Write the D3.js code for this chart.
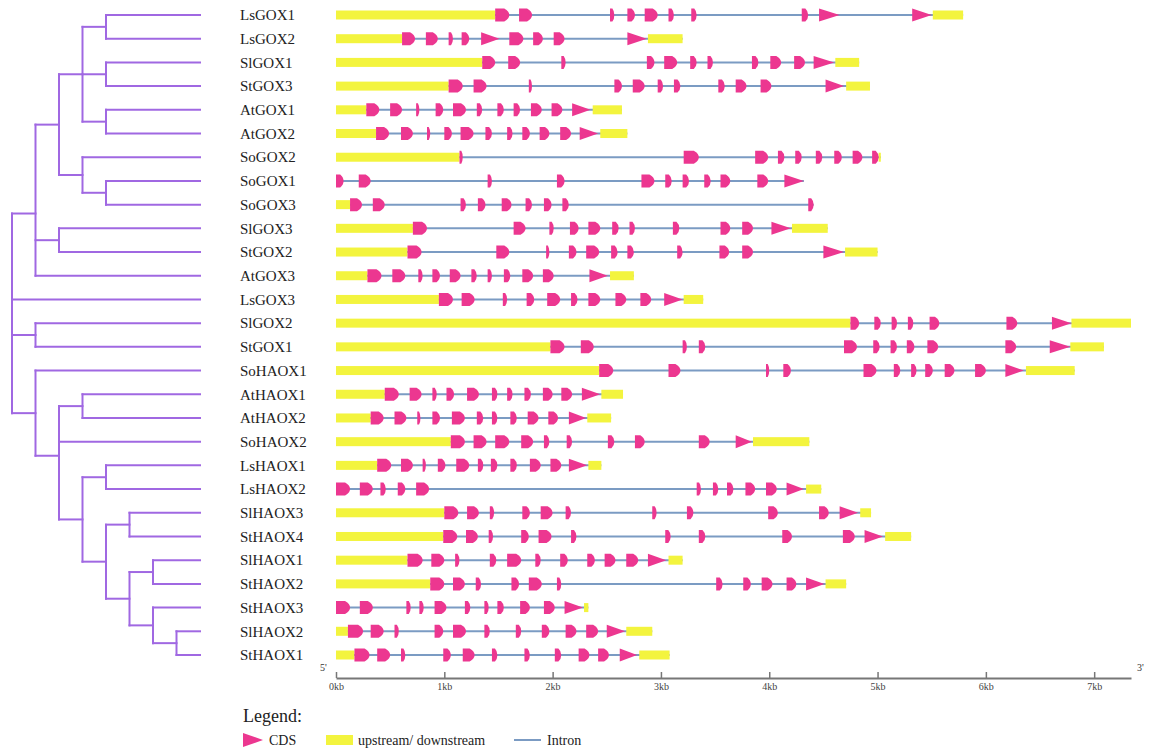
<!DOCTYPE html>
<html>
<head>
<meta charset="utf-8">
<script src="https://cdn.jsdelivr.net/npm/d3@7.9.0/dist/d3.min.js"></script>
<style>
  body { margin: 0; background: #fff; }
  text { font-family: "Liberation Serif", "DejaVu Serif", serif; }
</style>
</head>
<body>
<svg id="chart" width="1156" height="748"></svg>
<script>
// gene names, top to bottom (same order as the tree leaves)
const names = ['LsGOX1','LsGOX2','SlGOX1','StGOX3','AtGOX1','AtGOX2','SoGOX2','SoGOX1','SoGOX3',
  'SlGOX3','StGOX2','AtGOX3','LsGOX3','SlGOX2','StGOX1','SoHAOX1','AtHAOX1','AtHAOX2','SoHAOX2',
  'LsHAOX1','LsHAOX2','SlHAOX3','StHAOX4','SlHAOX1','StHAOX2','StHAOX3','SlHAOX2','StHAOX1'];

// tree topology (nested lists, leaves are gene names)
const tree = [
  [
    [
      [['LsGOX1','LsGOX2'], ['SlGOX1','StGOX3'], ['AtGOX1','AtGOX2']],
      ['SoGOX2', ['SoGOX1','SoGOX3']]
    ],
    ['SlGOX3','StGOX2'],
    'AtGOX3'
  ],
  'LsGOX3',
  ['SlGOX2','StGOX1'],
  ['SoHAOX1',
    [['AtHAOX1','AtHAOX2'],
     'SoHAOX2',
     [['LsHAOX1','LsHAOX2'],
      [['SlHAOX3','StHAOX4'],
       [['SlHAOX1','StHAOX2'],
        ['StHAOX3', ['SlHAOX2','StHAOX1']]]]]]]
];

// upstream/downstream (UTR) segments per gene, kb
const utr = [
  [[0,1.47],[5.51,5.79]], [[0,0.61],[2.88,3.20]], [[0,1.35],[4.61,4.83]], [[0,1.04],[4.71,4.93]],
  [[0,0.28],[2.37,2.64]], [[0,0.37],[2.44,2.69]], [[0,1.14],[5.01,5.03]], [],
  [[0,0.13]], [[0,0.71],[4.21,4.54]], [[0,0.66],[4.70,5.00]], [[0,0.29],[2.53,2.75]],
  [[0,0.95],[3.21,3.39]], [[0,4.75],[6.79,7.34]], [[0,1.98],[6.78,7.09]], [[0,2.43],[6.37,6.82]],
  [[0,0.45],[2.45,2.65]], [[0,0.32],[2.32,2.54]], [[0,1.06],[3.85,4.37]], [[0,0.38],[2.33,2.45]],
  [[4.34,4.48]], [[0,1.00],[4.84,4.94]], [[0,0.99],[5.07,5.31]], [[0,0.66],[3.07,3.20]],
  [[0,0.87],[4.52,4.71]], [[2.29,2.33]], [[0,0.11],[2.68,2.92]], [[0,0.17],[2.80,3.08]]
];

// CDS segments per gene, kb ('a' = drawn as an arrow)
const cds = [
  [[1.47,1.60],[1.69,1.81],[2.53,2.57],[2.69,2.76],[2.85,2.97],[3.07,3.12],[3.28,3.33],[4.30,4.36],[4.46,4.65,'a'],[5.32,5.50,'a']],
  [[0.61,0.73],[0.83,0.94],[1.04,1.08],[1.16,1.23],[1.34,1.51,'a'],[1.60,1.73],[1.82,1.91],[2.01,2.11],[2.69,2.87,'a']],
  [[1.35,1.47],[1.59,1.70],[2.08,2.12],[2.87,2.94],[3.03,3.15],[3.27,3.33],[3.43,3.48],[3.84,3.90],[4.01,4.11],[4.23,4.33],[4.41,4.60,'a']],
  [[1.04,1.17],[1.27,1.39],[1.78,1.81],[2.57,2.64],[2.74,2.85],[2.97,3.02],[3.12,3.18],[3.53,3.59],[3.69,3.79],[3.92,4.02],[4.52,4.69,'a']],
  [[0.28,0.40],[0.50,0.61],[0.74,0.77],[0.92,0.99],[1.08,1.20],[1.30,1.35],[1.49,1.55],[1.64,1.70],[1.80,1.90],[1.99,2.09],[2.18,2.35,'a']],
  [[0.37,0.49],[0.60,0.71],[0.84,0.87],[1.00,1.07],[1.15,1.27],[1.38,1.44],[1.58,1.63],[1.72,1.79],[1.88,1.97],[2.07,2.17],[2.25,2.42,'a']],
  [[1.14,1.17],[3.21,3.35],[3.87,3.99],[4.08,4.14],[4.24,4.30],[4.43,4.49],[4.60,4.67],[4.77,4.86],[4.95,5.01]],
  [[0,0.07],[0.21,0.32],[1.40,1.44],[2.04,2.11],[2.82,2.94],[3.04,3.10],[3.20,3.26],[3.40,3.46],[3.55,3.64],[3.89,3.99],[4.14,4.32,'a']],
  [[0.13,0.24],[0.34,0.45],[1.15,1.20],[1.31,1.38],[1.53,1.62],[1.75,1.81],[1.92,1.99],[2.09,2.15],[4.36,4.41]],
  [[0.71,0.84],[1.64,1.75],[1.97,2.01],[2.16,2.24],[2.33,2.44],[2.55,2.61],[2.71,2.76],[3.11,3.17],[3.55,3.64],[3.75,3.85],[4.02,4.20,'a']],
  [[0.66,0.79],[1.48,1.60],[1.94,1.97],[2.15,2.22],[2.31,2.43],[2.54,2.60],[2.69,2.75],[3.15,3.20],[3.54,3.63],[3.75,3.85],[4.50,4.69,'a']],
  [[0.29,0.42],[0.52,0.64],[0.76,0.80],[0.89,0.96],[1.05,1.15],[1.25,1.30],[1.40,1.44],[1.55,1.61],[1.72,1.82],[1.91,2.01],[2.34,2.51,'a']],
  [[0.95,1.08],[1.16,1.28],[1.54,1.58],[1.76,1.83],[1.95,2.07],[2.17,2.23],[2.33,2.44],[2.58,2.68],[2.81,2.91],[3.03,3.20,'a']],
  [[4.75,4.83],[4.97,5.03],[5.13,5.18],[5.28,5.33],[5.48,5.57],[6.19,6.29],[6.61,6.79,'a']],
  [[1.98,2.11],[2.26,2.38],[3.20,3.24],[3.35,3.41],[4.69,4.81],[4.96,5.02],[5.12,5.18],[5.27,5.34],[5.46,5.56],[6.18,6.28],[6.59,6.78,'a']],
  [[2.43,2.56],[3.07,3.18],[3.97,4.00],[4.13,4.20],[4.87,4.99],[5.15,5.21],[5.31,5.36],[5.44,5.51],[5.62,5.71],[5.90,6.00],[6.18,6.35,'a']],
  [[0.45,0.58],[0.68,0.79],[0.89,0.93],[1.02,1.09],[1.21,1.32],[1.44,1.49],[1.58,1.63],[1.74,1.80],[1.91,2.00],[2.08,2.18],[2.27,2.44,'a']],
  [[0.32,0.44],[0.54,0.65],[0.75,0.78],[0.89,0.96],[1.07,1.19],[1.30,1.36],[1.44,1.49],[1.61,1.67],[1.77,1.87],[1.96,2.05],[2.15,2.31,'a']],
  [[1.06,1.19],[1.27,1.39],[1.47,1.60],[1.71,1.82],[1.92,1.97],[2.13,2.18],[2.51,2.57],[2.76,2.85],[3.35,3.45],[3.69,3.84,'a']],
  [[0.38,0.51],[0.60,0.71],[0.80,0.83],[0.94,1.01],[1.11,1.23],[1.31,1.36],[1.43,1.49],[1.61,1.67],[1.79,1.89],[1.98,2.08],[2.15,2.32,'a']],
  [[0,0.13],[0.22,0.34],[0.41,0.46],[0.57,0.64],[0.74,0.86],[3.33,3.37],[3.48,3.53],[3.61,3.67],[3.78,3.87],[3.97,4.07],[4.16,4.32,'a']],
  [[1.00,1.13],[1.21,1.32],[1.42,1.46],[1.72,1.79],[1.89,2.00],[2.12,2.17],[2.92,2.96],[3.24,3.30],[3.99,4.08],[4.46,4.55],[4.65,4.82,'a']],
  [[0.99,1.12],[1.20,1.31],[1.41,1.45],[1.71,1.78],[1.87,1.99],[2.17,2.22],[3.04,3.09],[3.35,3.41],[4.12,4.21],[4.68,4.79],[4.88,5.05,'a']],
  [[0.66,0.80],[0.88,1.00],[1.10,1.14],[1.42,1.48],[1.58,1.71],[1.84,1.89],[2.07,2.14],[2.32,2.39],[2.48,2.58],[2.68,2.79],[2.88,3.05,'a']],
  [[0.87,1.00],[1.08,1.19],[1.29,1.34],[1.62,1.69],[1.78,1.90],[2.04,2.08],[3.51,3.57],[3.76,3.83],[3.93,4.03],[4.16,4.25],[4.34,4.51,'a']],
  [[0,0.13],[0.22,0.34],[0.65,0.69],[0.77,0.81],[0.91,1.02],[1.19,1.24],[1.37,1.41],[1.49,1.55],[1.70,1.79],[1.92,2.02],[2.11,2.28,'a']],
  [[0.11,0.25],[0.32,0.44],[0.54,0.58],[0.91,0.99],[1.08,1.20],[1.37,1.42],[1.66,1.71],[1.90,1.97],[2.12,2.22],[2.31,2.42],[2.50,2.67,'a']],
  [[0.17,0.31],[0.38,0.50],[0.60,0.64],[0.99,1.06],[1.17,1.28],[1.44,1.49],[1.74,1.79],[2.02,2.08],[2.24,2.34],[2.42,2.52],[2.62,2.78,'a']]
];

const kbTicks = [0, 1, 2, 3, 4, 5, 6, 7];
const legendItems = ['CDS', 'upstream/ downstream', 'Intron'];

// colours
const PINK = '#ec3790', YELLOW = '#f3f43e', INTRON = '#7b9bc3', TREE = '#a068e2';

const svg = d3.select('#chart');

// scales
const x = d3.scaleLinear().domain([0, 7.34]).range([336, 1131]);
const y = d3.scalePoint().domain(names).range([15, 655]);
const xTree = d3.scaleLinear().domain([0, 8]).range([12, 200]);

// ---- tree ----
const root = d3.hierarchy(tree, d => Array.isArray(d) ? d : null);
root.eachAfter(n => {
  if (!n.children) { n.py = y(n.data); n.px = 200; }
  else { n.py = d3.mean(n.children, c => c.py); n.px = xTree(n.depth); }
});

const gTree = svg.append('g')
  .attr('fill', 'none').attr('stroke', TREE).attr('stroke-width', 2).attr('stroke-linecap', 'square');

gTree.selectAll('line.h')
  .data(root.descendants().filter(n => n.parent))
  .join('line').attr('class', 'h')
  .attr('x1', n => n.parent.px).attr('x2', n => n.px)
  .attr('y1', n => n.py).attr('y2', n => n.py);

gTree.selectAll('line.v')
  .data(root.descendants().filter(n => n.children))
  .join('line').attr('class', 'v')
  .attr('x1', n => n.px).attr('x2', n => n.px)
  .attr('y1', n => d3.min(n.children, c => c.py))
  .attr('y2', n => d3.max(n.children, c => c.py));

// ---- labels ----
svg.append('g').selectAll('text')
  .data(names)
  .join('text')
  .attr('x', 240).attr('y', d => y(d)).attr('dy', '0.35em')
  .attr('font-size', 15).attr('fill', '#222')
  .text(d => d);

// ---- gene structures ----
function exonPath(s, e, kind) {
  const x0 = x(s), x1 = x(e), h = 6.5, w = x1 - x0;
  if (kind === 'a') return `M${x0},${-h}L${x1},0L${x0},${h}Z`;
  const r = Math.min(w * 0.45, 5);
  return `M${x0},${-h}L${x1 - r},${-h}Q${x1},${-h * 0.6} ${x1},0Q${x1},${h * 0.6} ${x1 - r},${h}L${x0},${h}Z`;
}

const rows = svg.append('g').selectAll('g')
  .data(names)
  .join('g')
  .attr('transform', d => `translate(0,${y(d)})`);

rows.append('line')
  .attr('x1', (d, i) => x(d3.min([...utr[i], ...cds[i]], s => s[0])))
  .attr('x2', (d, i) => x(d3.max([...utr[i], ...cds[i]], s => s[1])))
  .attr('stroke', INTRON).attr('stroke-width', 2);

rows.selectAll('rect')
  .data((d, i) => utr[i])
  .join('rect')
  .attr('x', s => x(s[0])).attr('width', s => Math.max(1.5, x(s[1]) - x(s[0])))
  .attr('y', -4.5).attr('height', 9)
  .attr('fill', YELLOW);

rows.selectAll('path')
  .data((d, i) => cds[i])
  .join('path')
  .attr('d', s => exonPath(s[0], s[1], s[2]))
  .attr('fill', PINK);

// ---- axis ----
const axisY = 678;
const gAxis = svg.append('g')
  .attr('transform', `translate(0,${axisY})`)
  .call(d3.axisBottom(x).tickValues(kbTicks).tickFormat(d => d + 'kb')
    .tickSize(-6).tickSizeOuter(0).tickPadding(5));
gAxis.select('.domain').attr('stroke', '#777').attr('stroke-width', 2);
gAxis.selectAll('.tick line').attr('stroke', '#777').attr('stroke-width', 1.5);
gAxis.selectAll('.tick text').attr('font-family', '"Liberation Serif", serif')
  .attr('font-size', 10).attr('fill', '#444');

svg.append('text').attr('x', 320).attr('y', 671).attr('font-size', 10).attr('fill', '#333').text("5'");
svg.append('text').attr('x', 1137).attr('y', 671).attr('font-size', 10).attr('fill', '#333').text("3'");

// ---- legend ----
svg.append('text').attr('x', 243).attr('y', 722).attr('font-size', 18).attr('fill', '#222').text('Legend:');
const ly = 740;
svg.append('path').attr('d', `M243,${ly - 7}L263,${ly}L243,${ly + 7}Z`).attr('fill', PINK);
svg.append('rect').attr('x', 326).attr('y', ly - 5).attr('width', 27).attr('height', 10).attr('fill', YELLOW);
svg.append('line').attr('x1', 514).attr('x2', 541).attr('y1', ly).attr('y2', ly)
  .attr('stroke', INTRON).attr('stroke-width', 2);
svg.append('g').selectAll('text')
  .data(legendItems)
  .join('text')
  .attr('x', (d, i) => [269, 358, 547][i])
  .attr('y', ly).attr('dy', '0.35em')
  .attr('font-size', 14).attr('fill', '#222')
  .text(d => d);
</script>
</body>
</html>
